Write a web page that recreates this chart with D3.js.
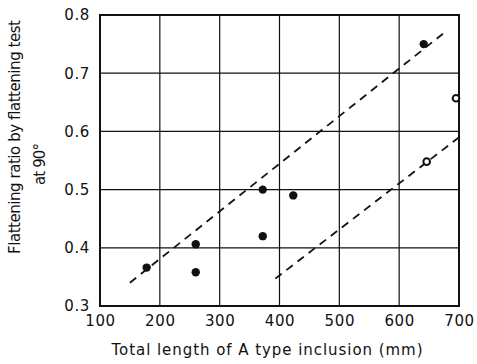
<!DOCTYPE html>
<html><head><meta charset="utf-8">
<script src="https://cdn.jsdelivr.net/npm/d3@7"></script>
<style>body{margin:0;background:#fff}svg{display:block}text{font-family:"DejaVu Sans",Arial,sans-serif;fill:#111}</style>
</head><body>
<svg id="c" width="477" height="364"></svg>
<script>
const xTicks = [100,200,300,400,500,600,700];
const yTicks = [0.3,0.4,0.5,0.6,0.7,0.8];
const filledX = [178,260,260,372,372,423,641];
const filledY = [0.366,0.406,0.358,0.500,0.420,0.490,0.750];
const openX = [646,695];
const openY = [0.548,0.657];
const line1X = [150,677];
const line1Y = [0.340,0.771];
const line2X = [393,699];
const line2Y = [0.347,0.589];
const xTitle = "Total length of A type inclusion (mm)";
const yTitle1 = "Flattening ratio by flattening test";
const yTitle2 = "at 90°";

const svg = d3.select("#c");
const m = {l:100,t:15,r:459,b:306};
const x = d3.scaleLinear().domain([100,700]).range([m.l,m.r]);
const y = d3.scaleLinear().domain([0.3,0.8]).range([m.b,m.t]);
const FF = "'DejaVu Sans',Arial,sans-serif";

// grid
svg.append("g").selectAll("line").data(xTicks.slice(1,-1)).join("line")
  .attr("x1",d=>x(d)).attr("x2",d=>x(d)).attr("y1",m.t).attr("y2",m.b)
  .attr("stroke","#111").attr("stroke-width",1.2);
svg.append("g").selectAll("line").data(yTicks.slice(1,-1)).join("line")
  .attr("y1",d=>y(d)).attr("y2",d=>y(d)).attr("x1",m.l).attr("x2",m.r)
  .attr("stroke","#111").attr("stroke-width",1.2);
svg.append("rect").attr("x",m.l).attr("y",m.t).attr("width",m.r-m.l).attr("height",m.b-m.t)
  .attr("fill","none").attr("stroke","#111").attr("stroke-width",2);

// axes labels
const xa = svg.append("g").attr("transform",`translate(0,${m.b})`)
  .call(d3.axisBottom(x).tickValues(xTicks).tickSize(0).tickPadding(9).tickFormat(d3.format("d")));
xa.select(".domain").remove();
xa.selectAll("text").attr("font-size",15).style("font-family",FF).style("letter-spacing","0.6px").attr("fill","#111");
const ya = svg.append("g").attr("transform",`translate(${m.l},0)`)
  .call(d3.axisLeft(y).tickValues(yTicks).tickSize(0).tickPadding(10).tickFormat(d3.format(".1f")));
ya.select(".domain").remove();
ya.selectAll("text").attr("font-size",15).style("font-family",FF).style("letter-spacing","0.6px").attr("fill","#111");

// dashed lines
const ln = d3.line().x(d=>x(d[0])).y(d=>y(d[1]));
[[line1X,line1Y],[line2X,line2Y]].forEach(([lx,ly])=>{
  svg.append("path").attr("d",ln(lx.map((v,i)=>[v,ly[i]])))
    .attr("fill","none").attr("stroke","#111").attr("stroke-width",1.8).attr("stroke-dasharray","8,6");
});

// points
svg.append("g").selectAll("circle").data(filledX.map((v,i)=>[v,filledY[i]])).join("circle")
  .attr("cx",d=>x(d[0])).attr("cy",d=>y(d[1])).attr("r",4.2).attr("fill","#111");
svg.append("g").selectAll("circle").data(openX.map((v,i)=>[v,openY[i]])).join("circle")
  .attr("cx",d=>x(d[0])).attr("cy",d=>y(d[1])).attr("r",3.3).attr("fill","#fff").attr("stroke","#111").attr("stroke-width",2);

// titles
svg.append("text").attr("x",267).attr("y",355).attr("text-anchor","middle").attr("font-size",15)
  .attr("textLength",311).attr("lengthAdjust","spacing").text(xTitle);
svg.append("text").attr("transform","translate(20,137) rotate(-90)").attr("text-anchor","middle").attr("font-size",15)
  .attr("textLength",234).attr("lengthAdjust","spacing").text(yTitle1);
svg.append("text").attr("transform","translate(45,164) rotate(-90)").attr("text-anchor","middle").attr("font-size",15)
  .attr("textLength",42).attr("lengthAdjust","spacing").text(yTitle2);
</script>
</body></html>
